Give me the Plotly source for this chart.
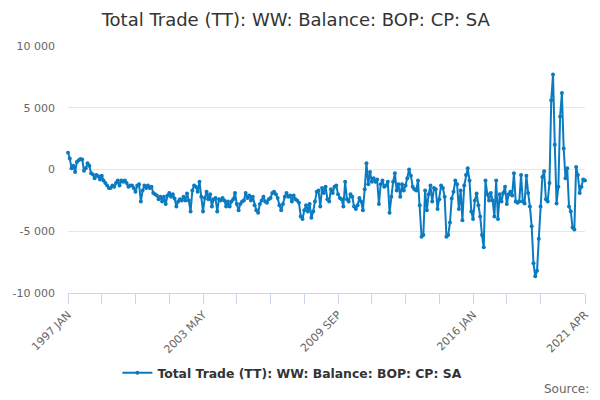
import plotly.graph_objects as go

# ── datos ─────────────────────────────────────────────────────────────────────
MONTHS = ["JAN", "FEB", "MAR", "APR", "MAY", "JUN",
          "JUL", "AUG", "SEP", "OCT", "NOV", "DEC"]
YEARS = list(range(1997, 2022))
periods = [f"{y} {m}" for y in YEARS for m in MONTHS][:292]   # 1997 JAN .. 2021 APR

# balance comercial, millones
balance = [
    1350, 900, 100, 300, -200, 600, 750, 850, 800, -100, 100, 500,                       # 1997
    300, -300, -400, -700, -450, -550, -800, -500, -900, -1100, -1300, -1500,            # 1998
    -1500, -1300, -1400, -1100, -900, -1300, -900, -1000, -900, -1100, -1400, -1300,     # 1999
    -1300, -1500, -1800, -1300, -1200, -2600, -1700, -1300, -1500, -1300, -1500, -1400,  # 2000
    -1900, -2000, -2100, -2400, -2200, -2600, -2200, -2800, -2100, -1900, -2200, -2000,  # 2001
    -2350, -3000, -2600, -2400, -2500, -2200, -2500, -1950, -2500, -3400, -1700, -1300,  # 2002
    -1400, -1800, -1000, -2200, -3400, -2300, -1800, -2400, -2000, -3000, -2400, -2300,  # 2003
    -3400, -2400, -2500, -2300, -2500, -3000, -2600, -3000, -2600, -2400, -1900, -2800,  # 2004
    -3300, -2800, -2600, -2500, -1900, -2300, -2100, -2500, -2200, -2900, -3300, -3500,  # 2005
    -2800, -2500, -2200, -2600, -2700, -2400, -2300, -1900, -1800, -2000, -2300, -2900,  # 2006
    -3300, -2800, -2200, -1900, -2200, -2100, -2600, -2100, -2400, -2500, -2700, -3800,  # 2007
    -4000, -3300, -2900, -3400, -2800, -3900, -3400, -2600, -1800, -1700, -3000, -1500,  # 2008
    -1900, -1400, -2400, -2600, -1600, -1900, -1400, -1300, -2000, -2300, -2400, -3000,  # 2009
    -1000, -2400, -2600, -2000, -2200, -3000, -3200, -2900, -2300, -2600, -3300, -1600,  # 2010
    500, -1200, -200, -1000, -700, -1000, -800, -2800, -1200, -900, -1400, -1300,        # 2011
    -1000, -3500, -2200, -1000, -300, -1700, -1200, -2200, -1200, -1700, -1300, -700,    # 2012
    0, -500, -1400, -1600, -1700, -900, -2900, -5450, -5300, -1700, -3300, -2000,        # 2013
    -1300, -2600, -1500, -1600, -3200, -2400, -1300, -1500, -2200, -5450, -5300, -4300,  # 2014
    -2350, -1800, -900, -1200, -3200, -1700, -4100, -1300, -450, 100, -900, -3400,       # 2015
    -4000, -2500, -1950, -2900, -3800, -5300, -6300, -900, -2000, -2500, -1900, -2500,   # 2016
    -3800, -900, -4000, -2000, -2600, -1900, -1400, -2800, -2000, -1800, -2100, -300,    # 2017
    -2600, -2700, -2600, -450, -2600, -2750, -500, -1900, -3000, -4600, -7600, -8650,    # 2018
    -8200, -5600, -3000, -600, -150, -2400, -2600, -1100, 5600, 7700, 2000, -2750,       # 2019
    -1400, 4300, 6200, 1700, -700, 100, -3000, -3400, -4700, -4850, 200, -450,           # 2020
    -1900, -1400, -800, -900,                                                            # 2021
]

# marcas del eje x: cada 19 meses, etiqueta cada cuarta + la última
tick_idx = [i * 19 for i in range(15)] + [len(periods) - 1]
label_idx = [0, 76, 152, 228, len(periods) - 1]
tick_vals = [periods[i] for i in tick_idx]
tick_text = [periods[i] if i in label_idx else "" for i in tick_idx]

y_vals = [10000, 5000, 0, -5000, -10000]
y_text = ["10 000", "5 000", "0", "-5 000", "-10 000"]

SERIES = "Total Trade (TT): WW: Balance: BOP: CP: SA"
LINE = "#0b7bc1"

fig = go.Figure(go.Scatter(
    x=periods, y=balance, mode="lines+markers", name=SERIES,
    line=dict(color=LINE, width=2),
    marker=dict(color=LINE, size=4),
    cliponaxis=False,
))

fig.update_layout(
    width=600, height=400,
    margin=dict(l=68, r=15, t=46, b=107),
    paper_bgcolor="white", plot_bgcolor="white",
    font=dict(family="DejaVu Sans", color="#666666", size=11),
    title=dict(text=SERIES, x=0.493, xref="container", xanchor="center",
               y=0.95, yref="container", yanchor="middle",
               font=dict(size=18, color="#333333")),
    showlegend=True,
    legend=dict(orientation="h", x=0.434, xanchor="center",
                y=-0.325, yanchor="middle",
                font=dict(size=12.4, color="#333333", weight="bold")),
    annotations=[dict(text="Source:", xref="paper", yref="paper", x=1.012, y=-0.39,
                      xanchor="right", yanchor="middle", showarrow=False,
                      font=dict(size=12, color="#666666"))],
)

fig.update_xaxes(
    type="category", range=[0, len(periods) - 1], automargin=False,
    tickmode="array", tickvals=tick_vals, ticktext=tick_text, tickangle=-45,
    ticks="outside", ticklen=10, tickcolor="#ccd6eb",
    showline=True, linecolor="#ccd6eb", linewidth=1,
    showgrid=False, zeroline=False,
)
fig.update_yaxes(
    range=[-10000, 10000], tickmode="array", tickvals=y_vals, ticktext=y_text,
    showgrid=True, gridcolor="#e6e6e6", gridwidth=1, zeroline=False,
    ticklabelstandoff=12, automargin=False,
)

# la página trae un margen de 8px en <body>; se quita para que cuadre con 600x400
fig.write_html("out.html", config={"displayModeBar": False},
               post_script="document.body.style.margin='0';")
